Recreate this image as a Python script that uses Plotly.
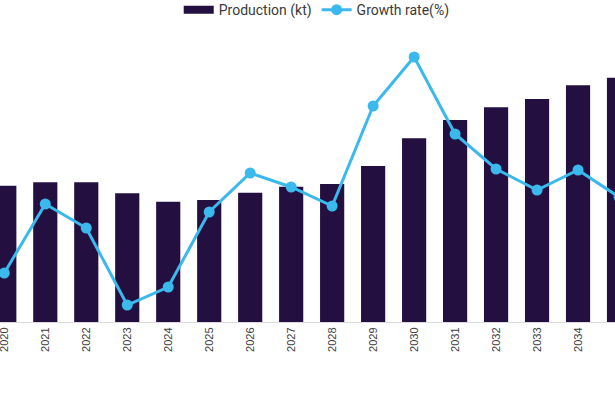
import plotly.graph_objects as go

years = [str(y) for y in range(2020, 2036)]
production = [1363, 1397, 1397, 1287, 1203, 1220, 1293, 1353, 1380, 1560, 1837, 2020, 2147, 2230, 2367, 2443]
growth = [-1.1, 5.8, 3.4, -4.3, -2.5, 5.0, 8.9, 7.5, 5.6, 15.6, 20.5, 12.8, 9.3, 7.2, 9.2, 6.5]

BAR_COLOR = "#231041"
LINE_COLOR = "#3BB8EC"
TICK_FONT = dict(family="Liberation Sans", size=11, color="#404040")

fig = go.Figure()
fig.add_trace(go.Bar(
    x=years, y=production, name="Production (kt)", showlegend=False,
    marker=dict(color=BAR_COLOR, line=dict(width=0)), width=0.59,
))
# legend proxy giving a wide rectangular swatch
fig.add_trace(go.Scatter(
    x=[None], y=[None], name="Production (kt)", mode="lines",
    line=dict(color=BAR_COLOR, width=8),
))
fig.add_trace(go.Scatter(
    x=years, y=growth, name="Growth rate(%)", yaxis="y2",
    mode="lines+markers",
    line=dict(color=LINE_COLOR, width=3),
    marker=dict(color=LINE_COLOR, size=11),
))

# last category label sits just past the plot's right edge (one category step after 2034)
fig.add_annotation(x=years[-2], y=0, xref="x", yref="paper", text=years[-1],
                   showarrow=False, textangle=-90, yanchor="top", xanchor="center",
                   xshift=41, yshift=-8, font=TICK_FONT)

fig.update_layout(
    width=615, height=393,
    margin=dict(l=0, r=0, t=40, b=71, autoexpand=False),
    paper_bgcolor="white", plot_bgcolor="white",
    showlegend=True,
    legend=dict(orientation="h", x=0.515, xanchor="center", y=1.106, yanchor="middle",
                font=dict(family="Roboto", size=14, color="#3a3a3a"),
                itemwidth=30, bgcolor="rgba(0,0,0,0)"),
    xaxis=dict(type="category", range=[-0.105, 14.902], tickangle=-90, automargin=False,
               showgrid=False, showline=True, linecolor="#D9D9D9", linewidth=1,
               ticks="", tickfont=TICK_FONT),
    yaxis=dict(range=[0, 2820], visible=False, showgrid=False),
    yaxis2=dict(range=[-6, 22.2], overlaying="y", side="right", visible=False, showgrid=False),
)

fig.write_html("out.html", config={"displayModeBar": False},
               post_script="document.body.style.margin='0';document.body.style.overflow='hidden';")
